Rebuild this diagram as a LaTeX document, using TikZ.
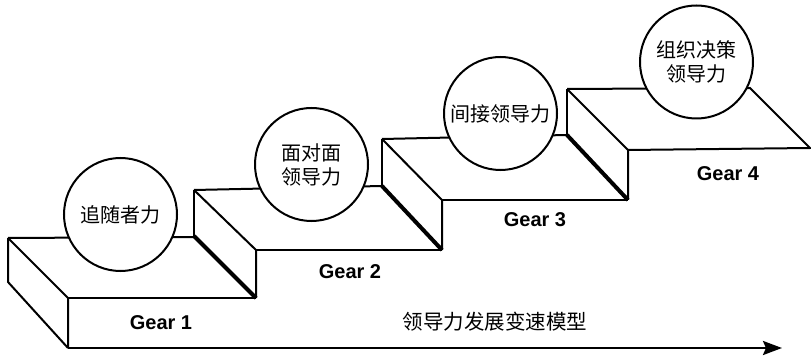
\documentclass[tikz,border=0pt]{standalone}
\usepackage{fontspec}
\setmainfont{Liberation Sans}
\newfontfamily\cjk{Noto Sans CJK SC}
\usetikzlibrary{arrows.meta}
\begin{document}
\begin{tikzpicture}[x=1pt,y=-1pt, line join=miter,
  edge/.style={line width=2pt},
  heavy/.style={line width=4pt},
  ball/.style={circle, draw, line width=2pt, fill=white, minimum size=113pt,
    inner sep=0pt, align=center, font=\cjk\fontsize{20}{24}\selectfont},
  gear/.style={font=\bfseries\fontsize{20}{24}\selectfont},
  caption/.style={font=\cjk\fontsize{20.5}{24}\selectfont}]
\useasboundingbox (0,0) rectangle (811,358);
% step 1
\coordinate (B1) at (8,238);
\coordinate (L1) at (8,282);
\coordinate (F1) at (68,298);
\coordinate (G1) at (68,348);
% step 2
\coordinate (B2) at (194,190);
\coordinate (R2) at (194,236);
\coordinate (F2) at (256,250);
\coordinate (G2) at (256,298);
% step 3
\coordinate (B3) at (382,139);
\coordinate (R3) at (382,186);
\coordinate (F3) at (442,200);
\coordinate (G3) at (442,250);
% step 4
\coordinate (B4) at (567,89);
\coordinate (R4) at (567,135);
\coordinate (F4) at (628,150);
\coordinate (G4) at (628,200);
\coordinate (K4) at (750,88);
\coordinate (E4) at (810,148);
\coordinate (AE) at (782,348);

% step 1 lines
\draw[edge] (B1) -- (194,237);
\draw[edge] (B1) -- (L1) -- (G1);
\draw[edge] (B1) -- (F1) -- (G1);
\draw[edge] (F1) -- (G2);
% step 2
\draw[edge] (B2) -- (R2);
\draw[heavy] (R2) -- (G2);
\draw[edge] (B2) -- (F2) -- (G2);
\draw[edge] (F2) -- (G3);
\draw[edge] (B2) -- (R3);
% step 3
\draw[edge] (B3) -- (R3);
\draw[heavy] (R3) -- (G3);
\draw[edge] (B3) -- (F3) -- (G3);
\draw[edge] (F3) -- (G4);
\draw[edge] (B3) -- (R4);
% step 4
\draw[edge] (B4) -- (R4);
\draw[heavy] (R4) -- (G4);
\draw[edge] (B4) -- (F4) -- (G4);
\draw[edge] (F4) -- (E4) -- (K4) -- (B4);

% arrow
\draw[line width=2.5pt, -{Stealth[length=19pt,width=14pt,inset=3pt]}] (G1) -- (AE);

% circles
\node[ball] (c1) at (120.5,214.5) {追随者力};
\node[ball] (c2) at (311.5,164.5) {面对面\\领导力};
\node[ball] (c3) at (500.5,113.5) {间接领导力};
\node[ball] (c4) at (696.5,62) {组织决策\\领导力};

% labels
\node[gear] (g1) at (161,323) {Gear 1};
\node[gear] (g2) at (350,272) {Gear 2};
\node[gear] (g3) at (535,220) {Gear 3};
\node[gear] (g4) at (728,174) {Gear 4};
\node[caption] (cap) at (495,322) {领导力发展变速模型};
\end{tikzpicture}
\end{document}
